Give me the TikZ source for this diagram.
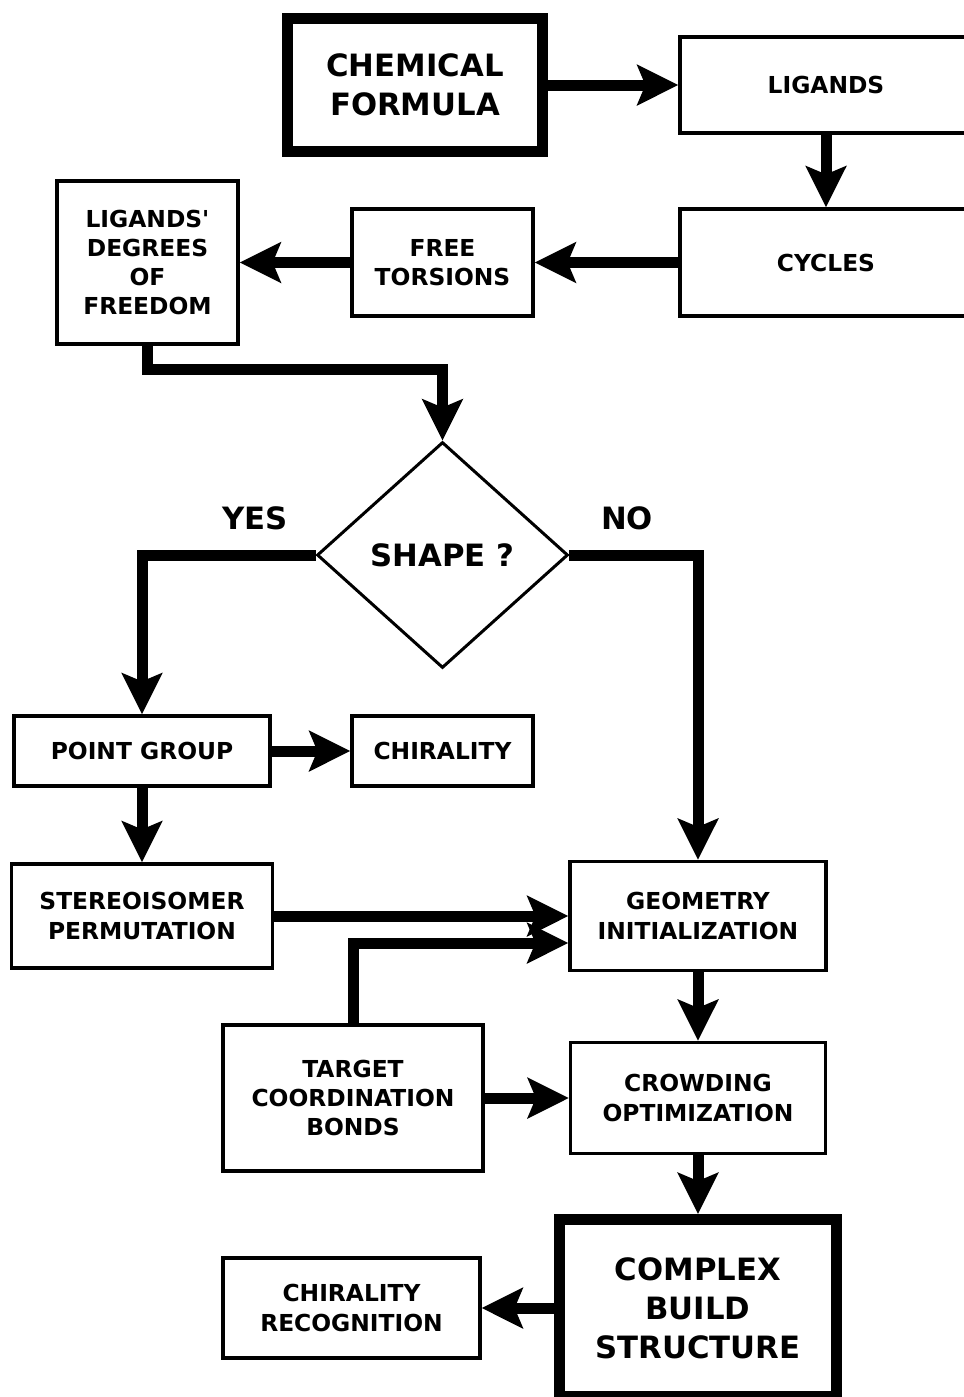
\documentclass[tikz,border=0pt]{standalone}
\usepackage{fontspec}
\setmainfont{DejaVu Sans}
\usetikzlibrary{arrows.meta,shapes.geometric}

\tikzset{
  box/.style={rectangle, draw, line width=0.065cm, align=center, inner sep=0pt,
    font=\fontsize{13.3}{16.6}\selectfont\bfseries},
  bigbox/.style={box, line width=0.22cm, font=\fontsize{17.5}{22.2}\selectfont\bfseries},
  decision/.style={diamond, draw, line width=0.06cm, inner sep=0pt,
    font=\fontsize{17.5}{22.2}\selectfont\bfseries},
  answer/.style={font=\fontsize{17.5}{22.2}\selectfont\bfseries},
  flow/.style={line width=0.22cm, -{Stealth[length=0.82cm, width=0.8cm, inset=0.16cm]}}
}

\begin{document}
\begin{tikzpicture}[x=0.02cm, y=-0.02cm]
    \useasboundingbox (0,0) rectangle (964,1397);

    % Boxes
    \node (formula) [bigbox, minimum width=5.1cm, minimum height=2.66cm] at (415,85) {CHEMICAL\\FORMULA};
    \node (ligands) [box, minimum width=5.84cm, minimum height=1.92cm] at (826,85) {LIGANDS};
    \node (cycles) [box, minimum width=5.84cm, minimum height=2.14cm] at (826,262.5) {CYCLES};
    \node (torsions) [box, minimum width=3.62cm, minimum height=2.14cm] at (442.5,262.5) {FREE\\TORSIONS};
    \node (freedom) [box, minimum width=3.62cm, minimum height=3.26cm] at (147.5,262.5) {LIGANDS\textquotesingle\\DEGREES\\OF\\FREEDOM};

    % Decision
    \node (shape) [decision, minimum width=5.02cm, minimum height=4.52cm] at (442.5,555) {SHAPE ?};
    \node (yes) [answer] at (255,518) {YES};
    \node (no) [answer] at (627,518) {NO};

    \node (pointgroup) [box, minimum width=5.12cm, minimum height=1.4cm] at (142,751) {POINT GROUP};
    \node (chirality) [box, minimum width=3.62cm, minimum height=1.4cm] at (442.5,751) {CHIRALITY};
    \node (stereo) [box, minimum width=5.22cm, minimum height=2.08cm] at (142,916) {STEREOISOMER\\PERMUTATION};
    \node (geometry) [box, minimum width=5.12cm, minimum height=2.18cm] at (698,916) {GEOMETRY\\INITIALIZATION};
    \node (target) [box, minimum width=5.2cm, minimum height=2.92cm] at (353,1098) {TARGET\\COORDINATION\\BONDS};
    \node (crowding) [box, minimum width=5.1cm, minimum height=2.22cm] at (698,1098) {CROWDING\\OPTIMIZATION};
    \node (complex) [bigbox, minimum width=5.54cm, minimum height=3.54cm] at (698,1308) {COMPLEX\\BUILD\\STRUCTURE};
    \node (recognition) [box, minimum width=5.14cm, minimum height=2cm] at (351.5,1308) {CHIRALITY\\RECOGNITION};

    % Arrows
    \draw[flow] (formula) -- (ligands);
    \draw[flow] (ligands) -- (cycles);
    \draw[flow] (cycles) -- (torsions);
    \draw[flow] (torsions) -- (freedom);
    \draw[flow] (freedom.south) -- ++(0,24) -| (shape.north);
    \draw[flow] (shape.west) -| (pointgroup.north);
    \draw[flow] (shape.east) -| (geometry.north);
    \draw[flow] (pointgroup) -- (chirality);
    \draw[flow] (pointgroup) -- (stereo);
    \draw[flow] (stereo) -- (geometry);
    \draw[flow] (target.north) |- ([yshift=-0.54cm]geometry.west);
    \draw[flow] (target) -- (crowding);
    \draw[flow] (geometry) -- (crowding);
    \draw[flow] (crowding) -- (complex);
    \draw[flow] (complex) -- (recognition);
\end{tikzpicture}
\end{document}
